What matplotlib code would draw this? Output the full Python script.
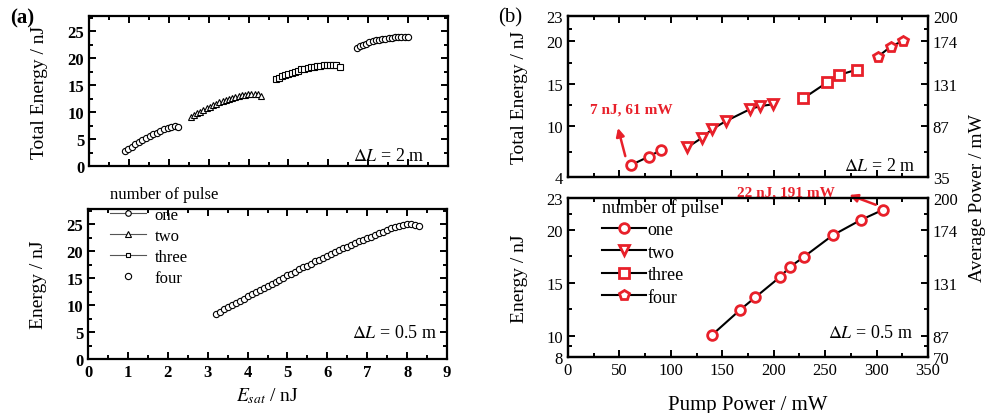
import numpy as np
import matplotlib.pyplot as plt
from matplotlib.lines import Line2D

plt.rcParams['font.family'] = 'Liberation Serif'
plt.rcParams['mathtext.fontset'] = 'stix'

# (a) dL = 2 m, total energy vs E_sat
one_x = [0.89, 0.98, 1.07, 1.16, 1.25, 1.34, 1.43, 1.52, 1.61, 1.70, 1.79, 1.88, 1.97, 2.06, 2.15, 2.24]
one_y = [2.8, 3.2, 3.6, 4.0, 4.4, 4.8, 5.2, 5.5, 5.9, 6.2, 6.5, 6.8, 7.1, 7.3, 7.4, 7.2]
two_x = [2.55, 2.63, 2.71, 2.79, 2.87, 2.95, 3.03, 3.11, 3.19, 3.27, 3.35, 3.43, 3.51, 3.59, 3.67,
         3.75, 3.83, 3.91, 3.99, 4.07, 4.15, 4.23, 4.31]
two_y = [9.0, 9.4, 9.8, 10.1, 10.4, 10.7, 11.0, 11.3, 11.5, 11.8, 12.0, 12.2, 12.4, 12.6, 12.8,
         12.9, 13.1, 13.2, 13.3, 13.4, 13.4, 13.3, 12.9]
three_x = [4.68, 4.76, 4.84, 4.92, 5.00, 5.08, 5.16, 5.24, 5.32, 5.40, 5.48, 5.56, 5.64, 5.72,
           5.80, 5.88, 5.96, 6.04, 6.12, 6.20, 6.28]
three_y = [16.1, 16.4, 16.6, 16.9, 17.1, 17.3, 17.5, 17.7, 17.9, 18.0, 18.2, 18.3, 18.4, 18.5,
           18.6, 18.7, 18.8, 18.8, 18.8, 18.7, 18.4]
four_x = [6.71, 6.79, 6.87, 6.95, 7.03, 7.11, 7.19, 7.27, 7.35, 7.43, 7.51, 7.59, 7.67, 7.75,
          7.83, 7.91, 7.99]
four_y = [21.9, 22.2, 22.5, 22.7, 22.9, 23.1, 23.3, 23.4, 23.5, 23.6, 23.7, 23.8, 23.9, 23.9,
          24.0, 24.0, 23.9]

# (a) dL = 0.5 m
single_x = [3.2, 3.3, 3.4, 3.5, 3.6, 3.7, 3.8, 3.9, 4.0, 4.1, 4.2, 4.3, 4.4, 4.5, 4.6, 4.7, 4.8,
            4.9, 5.0, 5.1, 5.2, 5.3, 5.4, 5.5, 5.6, 5.7, 5.8, 5.9, 6.0, 6.1, 6.2, 6.3, 6.4, 6.5,
            6.6, 6.7, 6.8, 6.9, 7.0, 7.1, 7.2, 7.3, 7.4, 7.5, 7.6, 7.7, 7.8, 7.9, 8.0, 8.1, 8.2, 8.3]
single_y = [8.4, 8.8, 9.2, 9.6, 10.0, 10.4, 10.8, 11.2, 11.6, 12.0, 12.4, 12.8, 13.2, 13.6, 13.9,
            14.3, 14.7, 15.1, 15.5, 15.8, 16.2, 16.6, 17.0, 17.3, 17.7, 18.1, 18.4, 18.8, 19.1,
            19.5, 19.8, 20.2, 20.5, 20.8, 21.1, 21.5, 21.8, 22.1, 22.4, 22.7, 23.0, 23.3, 23.6,
            23.9, 24.2, 24.5, 24.7, 24.9, 25.0, 25.0, 24.9, 24.7]

# (b) dL = 2 m, measured
p_one = [61, 78.4, 90.7]
e_one = [5.4, 6.4, 7.2]
p_two = [116, 130, 140.3, 153.6, 176.9, 186.7, 199]
e_two = [7.5, 8.6, 9.66, 10.6, 12.0, 12.37, 12.57]
p_three = [228.8, 252.1, 263.1, 280.6]
e_three = [13.28, 15.17, 16.03, 16.66]
p_four = [301, 313.7, 326]
e_four = [18.16, 19.38, 20.08]

# (b) dL = 0.5 m
p_single = [140.3, 167.5, 182.1, 205.8, 215.8, 229.1, 257.3, 284.5, 305.9]
e_single = [10.1, 12.46, 13.63, 15.52, 16.49, 17.43, 19.48, 20.92, 21.87]

top_ticks = [4, 10, 15, 20, 23]
top_power = ['35', '87', '131', '174', '200']
bot_ticks = [8, 10, 15, 20, 23]
bot_power = ['70', '87', '131', '174', '200']
pulse_names = ['one', 'two', 'three', 'four']


def style(ax, bold=False):
    for s in ax.spines.values():
        s.set_linewidth(1.6)
    ax.tick_params(which='both', direction='in', top=True, right=True, labelsize=12, width=1.4)
    ax.tick_params(which='major', length=5)
    ax.tick_params(which='minor', length=3)
    if bold:
        for t in ax.get_xticklabels() + ax.get_yticklabels():
            t.set_fontweight('bold')


fig = plt.figure(figsize=(9.89, 4.14), dpi=100)
ax1 = fig.add_axes([0.090, 0.5966, 0.363, 0.3623])
ax2 = fig.add_axes([0.089, 0.1304, 0.363, 0.3623])
ax3 = fig.add_axes([0.5743, 0.570, 0.364, 0.389])
ax4 = fig.add_axes([0.5743, 0.1353, 0.364, 0.384])

mk = dict(ls='none', ms=4.5, mfc='white', mec='black', mew=0.8)
ax1.plot(one_x, one_y, marker='o', **mk)
ax1.plot(two_x, two_y, marker='^', **mk)
ax1.plot(three_x, three_y, marker='s', ms=4, mfc='white', mec='black', mew=0.8, ls='none')
ax1.plot(four_x, four_y, marker='o', **mk)
ax2.plot(single_x, single_y, marker='o', **mk)

for ax in (ax1, ax2):
    ax.set_xlim(0, 9)
    ax.set_ylim(0, 27.8)
    ax.set_xticks(np.arange(0, 10, 1))
    ax.set_xticks(np.arange(0.5, 9, 1), minor=True)
    ax.set_yticks([0, 5, 10, 15, 20, 25])
    ax.set_yticks([2.5, 7.5, 12.5, 17.5, 22.5, 27.5], minor=True)
    style(ax, bold=True)
ax1.tick_params(labelbottom=False)
ax1.set_ylabel('Total Energy / nJ', fontsize=14)
ax2.set_ylabel('Energy / nJ', fontsize=14)
ax1.yaxis.set_label_coords(-0.115, 0.5)
ax2.yaxis.set_label_coords(-0.115, 0.5)
ax2.set_xlabel(r'$E_{sat}$ / nJ', fontsize=14, labelpad=4)

ax1.text(0.934, 0.07, r'$\mathit{\Delta L}$ = 2 m', transform=ax1.transAxes, ha='right', va='center', fontsize=13)
ax2.text(0.972, 0.18, r'$\mathit{\Delta L}$ = 0.5 m', transform=ax2.transAxes, ha='right', va='center', fontsize=13)

gray = '#555555'
hl = [Line2D([], [], color=gray, lw=0.8, marker='o', ms=4, mfc='white', mec='black', mew=0.8),
      Line2D([], [], color=gray, lw=0.8, marker='^', ms=4, mfc='white', mec='black', mew=0.8),
      Line2D([], [], color=gray, lw=0.8, marker='s', ms=3.5, mfc='white', mec='black', mew=0.8),
      Line2D([], [], ls='none', marker='o', ms=4.5, mfc='white', mec='black', mew=0.8)]
ax2.legend(hl, pulse_names, title='number of pulse', loc='upper left', bbox_to_anchor=(0.042, 1.2),
           frameon=False, fontsize=12, title_fontsize=12, handlelength=2.2, handletextpad=0.5,
           labelspacing=0.3, alignment='left', borderaxespad=0)

# (b)
red = '#e8202a'
rk = dict(color='black', lw=1.5, ms=7, mfc='white', mec=red, mew=2)
ax3.plot(p_one, e_one, marker='o', **rk)
ax3.plot(p_two, e_two, marker='v', **rk)
ax3.plot(p_three, e_three, marker='s', **rk)
ax3.plot(p_four, e_four, marker='p', **rk)
ax4.plot(p_single, e_single, marker='o', **rk)

ax3.set_ylim(4, 23)
ax3.set_yticks(top_ticks)
ax3.set_yticks([7, 12.5, 17.5, 21.5], minor=True)
ax4.set_ylim(8, 23)
ax4.set_yticks(bot_ticks)
ax4.set_yticks([9, 12.5, 17.5, 21.5], minor=True)
for ax, ticks, labs in ((ax3, top_ticks, top_power), (ax4, bot_ticks, bot_power)):
    ax.set_xlim(0, 350)
    ax.set_xticks(np.arange(0, 351, 50))
    ax.set_xticks(np.arange(25, 350, 50), minor=True)
    style(ax)
    ax.tick_params(which='both', right=False)
    tw = ax.twinx()
    tw.set_ylim(ax.get_ylim())
    tw.set_yticks(ticks)
    tw.set_yticklabels(labs)
    tw.set_yticks(ax.get_yticks(minor=True), minor=True)
    tw.tick_params(which='both', direction='in', labelsize=12, width=1.4)
    tw.tick_params(which='major', length=5)
    tw.tick_params(which='minor', length=3)
    for s in tw.spines.values():
        s.set_linewidth(1.6)
ax3.tick_params(labelbottom=False)
ax3.set_ylabel('Total Energy / nJ', fontsize=14)
ax4.set_ylabel('Energy / nJ', fontsize=14)
ax3.yaxis.set_label_coords(-0.11, 0.5)
ax4.yaxis.set_label_coords(-0.11, 0.5)
ax4.set_xlabel('Pump Power / mW', fontsize=15, labelpad=12)
fig.text(0.988, 0.522, 'Average Power / mW', rotation=90, ha='center', va='center', fontsize=14)

ax3.text(0.964, 0.07, r'$\mathit{\Delta L}$ = 2 m', transform=ax3.transAxes, ha='right', va='center', fontsize=13)
ax4.text(0.958, 0.157, r'$\mathit{\Delta L}$ = 0.5 m', transform=ax4.transAxes, ha='right', va='center', fontsize=13)

ax3.annotate('', xy=(47.9, 10.1), xytext=(56.4, 6.15),
             arrowprops=dict(arrowstyle='-|>', color=red, lw=1.8, mutation_scale=12))
ax3.text(61.9, 12.05, '7 nJ, 61 mW', color=red, fontweight='bold', fontsize=11, ha='center', va='center')
ax4.annotate('', xy=(271, 23.38), xytext=(301.7, 22.27), annotation_clip=False,
             arrowprops=dict(arrowstyle='-|>', color=red, lw=1.8, mutation_scale=12))
ax4.text(212, 23.6, '22 nJ, 191 mW', color=red, fontweight='bold', fontsize=11, ha='center', va='center')

rl = [Line2D([], [], color='black', lw=1.5, marker=m, ms=7, mfc='white', mec=red, mew=2) for m in 'ovsp']
ax4.legend(rl, pulse_names, title='number of pulse', loc='upper left', bbox_to_anchor=(0.075, 1.045),
           frameon=False, fontsize=13, title_fontsize=13, handlelength=2.4, handletextpad=0.1,
           labelspacing=0.3, alignment='left', borderaxespad=0)

fig.text(0.022, 0.955, '(a)', fontsize=15, fontweight='bold', ha='center', va='center')
fig.text(0.516, 0.958, '(b)', fontsize=15, ha='center', va='center')

fig.savefig('out.png', dpi=100)
